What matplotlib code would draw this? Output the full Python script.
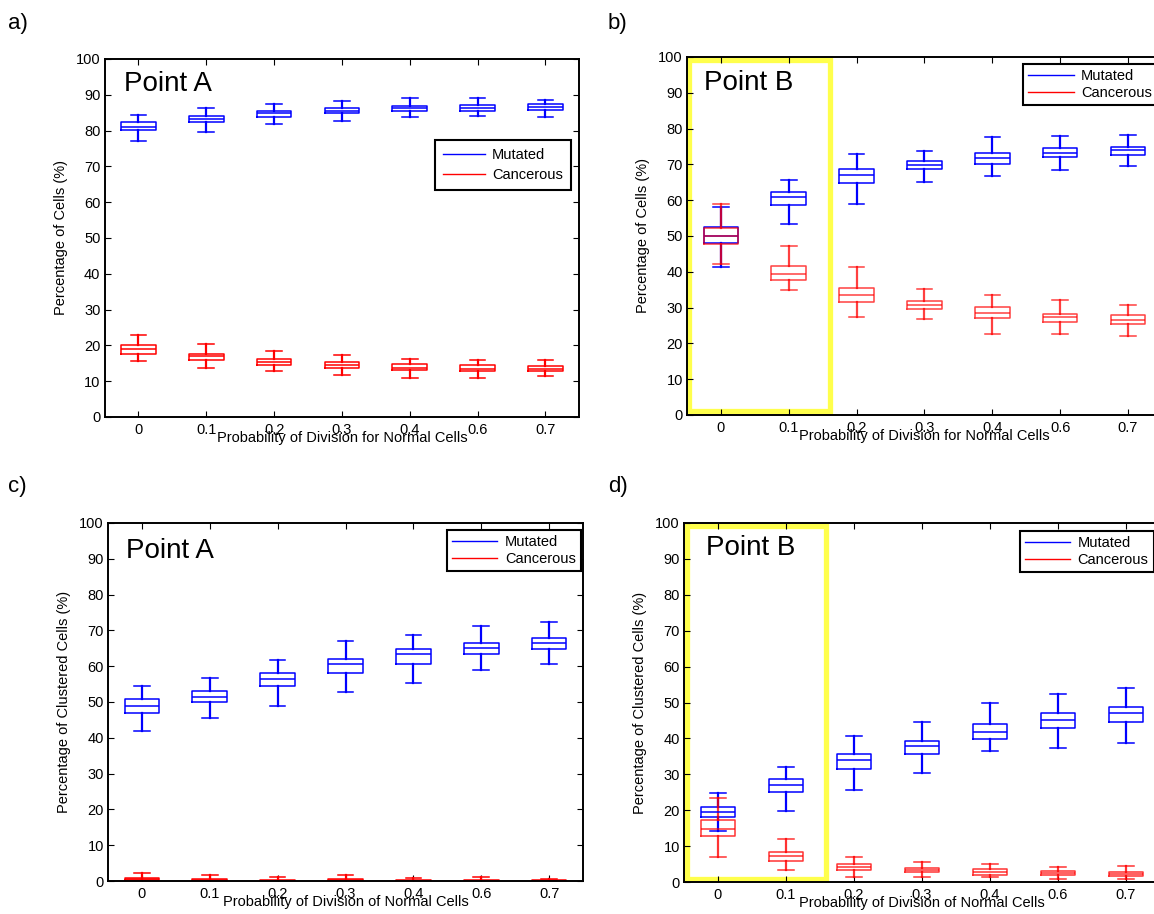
import matplotlib.pyplot as plt
from matplotlib.lines import Line2D
from matplotlib.patches import Rectangle

plt.rcParams['font.family'] = ['Liberation Sans', 'DejaVu Sans']

probs = ['0', '0.1', '0.2', '0.3', '0.4', '0.6', '0.7']

# box summaries: [low whisker, q1, median, q3, high whisker]
a_mutated = [[77.1, 80.1, 81.0, 82.4, 84.4], [79.6, 82.3, 83.1, 84.0, 86.3],
             [81.8, 83.8, 84.9, 85.6, 87.4], [82.7, 84.8, 85.6, 86.3, 88.2],
             [83.8, 85.4, 86.2, 86.9, 89.0], [84.1, 85.5, 86.3, 87.1, 89.1],
             [83.9, 85.8, 86.6, 87.4, 88.5]]
a_cancer = [[15.7, 17.7, 19.1, 20.0, 22.9], [13.7, 16.0, 17.0, 17.7, 20.5],
            [12.8, 14.5, 15.4, 16.3, 18.3], [11.8, 13.7, 14.6, 15.3, 17.4],
            [11.0, 13.2, 13.8, 14.7, 16.3], [10.9, 12.9, 13.5, 14.5, 15.9],
            [11.5, 12.8, 13.5, 14.2, 16.0]]

b_mutated = [[41.2, 47.9, 50.1, 52.4, 58.2], [53.2, 58.7, 61.0, 62.4, 65.5],
             [58.9, 64.8, 66.9, 68.7, 72.9], [65.1, 68.6, 69.7, 70.8, 73.6],
             [66.8, 70.2, 71.8, 73.2, 77.5], [68.3, 72.0, 73.2, 74.5, 77.8],
             [69.4, 72.6, 73.9, 74.8, 78.3]]
b_cancer = [[42.2, 47.8, 50.0, 52.3, 59.0], [34.8, 37.8, 39.3, 41.6, 47.1],
            [27.4, 31.5, 33.5, 35.6, 41.4], [26.7, 29.5, 30.7, 31.7, 35.1],
            [22.7, 27.0, 28.6, 30.1, 33.5], [22.5, 25.9, 27.3, 28.3, 32.1],
            [22.0, 25.4, 26.5, 27.8, 30.8]]

c_mutated = [[41.8, 47.0, 49.0, 50.9, 54.6], [45.4, 49.9, 51.3, 53.1, 56.8],
             [49.0, 54.4, 56.3, 58.0, 61.8], [52.9, 58.2, 60.5, 62.0, 67.0],
             [55.3, 60.5, 63.3, 64.7, 68.7], [58.8, 63.3, 65.1, 66.6, 71.3],
             [60.5, 64.7, 66.4, 68.0, 72.3]]
c_cancer = [[0.0, 0.2, 0.5, 0.9, 2.3], [0.0, 0.1, 0.3, 0.6, 1.7],
            [0.0, 0.0, 0.1, 0.3, 1.2], [0.0, 0.05, 0.2, 0.5, 1.6],
            [0.0, 0.0, 0.1, 0.2, 0.9], [0.0, 0.0, 0.1, 0.3, 1.2],
            [0.0, 0.0, 0.05, 0.15, 0.5]]

d_mutated = [[14.2, 18.0, 19.4, 20.9, 24.7], [19.9, 25.0, 27.0, 28.6, 32.0],
             [25.5, 31.4, 34.0, 35.6, 40.8], [30.5, 35.7, 37.8, 39.4, 44.7],
             [36.4, 39.8, 41.8, 43.9, 50.0], [37.4, 43.0, 45.2, 47.0, 52.4],
             [38.6, 44.6, 47.0, 48.8, 53.9]]
d_cancer = [[6.9, 12.7, 14.8, 17.3, 23.3], [3.3, 5.9, 7.2, 8.3, 11.9],
            [1.5, 3.3, 4.3, 4.9, 6.9], [1.3, 2.7, 3.4, 4.0, 5.6],
            [1.5, 2.0, 2.9, 3.5, 5.0], [0.9, 1.9, 2.5, 3.1, 4.2],
            [0.8, 1.7, 2.3, 2.9, 4.4]]

fig = plt.figure(figsize=(11.54, 9.14), dpi=100)
ax_a = fig.add_axes([0.0906, 0.5438, 0.4114, 0.3917])
ax_b = fig.add_axes([0.5953, 0.5460, 0.4116, 0.3917])
ax_c = fig.add_axes([0.0936, 0.0361, 0.4116, 0.3917])
ax_d = fig.add_axes([0.5927, 0.0350, 0.4125, 0.3928])


def boxes(ax, summary, color, alpha=1.0):
    stats = [dict(whislo=s[0], q1=s[1], med=s[2], q3=s[3], whishi=s[4], label=p)
             for s, p in zip(summary, probs)]
    line = dict(color=color, lw=1.1, alpha=alpha)
    ax.bxp(stats, positions=range(1, 8), widths=0.51, capwidths=0.23,
           showfliers=False, boxprops=line, medianprops=line, capprops=line,
           whiskerprops=dict(color=color, lw=1.6, alpha=alpha))


def style(ax, ylabel, xlabel, point, px, py, leg_xy, big_legend=False):
    ax.set_xlim(0.5, 7.5)
    ax.set_ylim(0, 100)
    ax.set_xticks(range(1, 8))
    ax.set_xticklabels(probs)
    ax.set_yticks(range(0, 101, 10))
    ax.tick_params(direction='in', top=True, right=True, length=4,
                   labelsize=10.5, width=0.8)
    ax.tick_params(axis='x', pad=4.5)
    ax.tick_params(axis='y', pad=3)
    for s in ax.spines.values():
        s.set_linewidth(1.4)
    ax.set_ylabel(ylabel, fontsize=10.5)
    ax.yaxis.set_label_coords(-0.078, 0.5)
    ax.set_xlabel(xlabel, fontsize=10.5)
    ax.xaxis.set_label_coords(0.5, -0.04)
    ax.text(px, py, point, transform=ax.transAxes, fontsize=20,
            ha='left', va='center')
    handles = [Line2D([], [], color='blue', lw=1),
               Line2D([], [], color='red', lw=1)]
    if big_legend:
        extra = dict(handlelength=2.9, borderpad=0.55, labelspacing=0.45)
    else:
        extra = dict(handlelength=3.1, borderpad=0.35, labelspacing=0.2)
    leg = ax.legend(handles, ['Mutated', 'Cancerous'], loc='upper left',
                    bbox_to_anchor=leg_xy, fontsize=10.5, fancybox=False,
                    edgecolor='black', framealpha=1, borderaxespad=0,
                    handletextpad=0.5, **extra)
    leg.get_frame().set_linewidth(1.5)


def highlight(ax, x0, x1, y0, y1):
    ax.add_patch(Rectangle((x0, y0), x1 - x0, y1 - y0, fill=False,
                           edgecolor='#ffff4c', lw=3.8, zorder=0.5,
                           clip_on=False))


boxes(ax_a, a_mutated, 'blue')
boxes(ax_a, a_cancer, 'red')
style(ax_a, 'Percentage of Cells (%)', 'Probability of Division for Normal Cells',
      'Point A', 0.041, 0.93, (0.695, 0.774), big_legend=True)

highlight(ax_b, 0.53, 2.61, 1.1, 99.2)
boxes(ax_b, b_mutated, 'blue')
boxes(ax_b, b_cancer, 'red', alpha=0.75)
style(ax_b, 'Percentage of Cells (%)', 'Probability of Division for Normal Cells',
      'Point B', 0.035, 0.927, (0.708, 0.98))

boxes(ax_c, c_mutated, 'blue')
boxes(ax_c, c_cancer, 'red')
style(ax_c, 'Percentage of Clustered Cells (%)', 'Probability of Division of Normal Cells',
      'Point A', 0.038, 0.923, (0.714, 0.98))

highlight(ax_d, 0.545, 2.59, 0.85, 99.2)
boxes(ax_d, d_mutated, 'blue')
boxes(ax_d, d_cancer, 'red', alpha=0.8)
style(ax_d, 'Percentage of Clustered Cells (%)', 'Probability of Division of Normal Cells',
      'Point B', 0.046, 0.93, (0.706, 0.977))

for lab, x, y in [('a)', 8, 24), ('b)', 608, 24), ('c)', 8, 487), ('d)', 608, 487)]:
    fig.text(x / 1154, 1 - y / 914, lab, fontsize=16, ha='left', va='center')

fig.savefig('out.png', dpi=100)
